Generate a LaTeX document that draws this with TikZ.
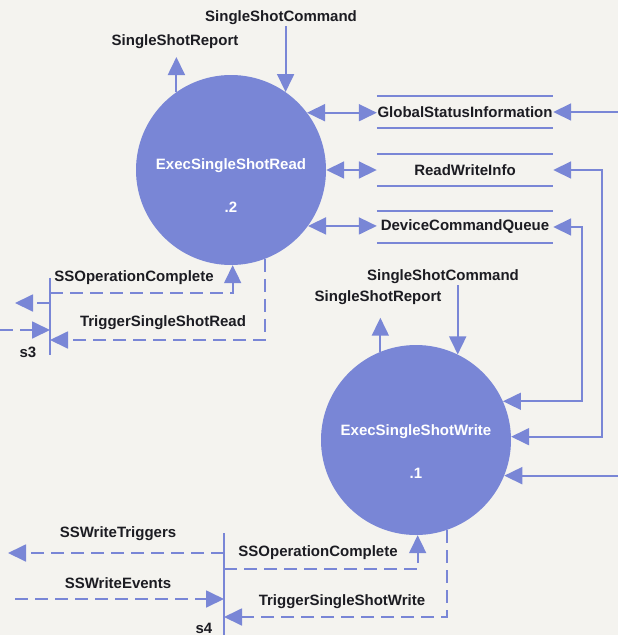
\documentclass[tikz,border=0pt]{standalone}
\usepackage{fontspec}
\setmainfont{Liberation Sans}
\usetikzlibrary{arrows.meta,calc}
\definecolor{dfdblue}{RGB}{121,134,214}
\definecolor{paper}{RGB}{244,243,239}
\definecolor{ink}{RGB}{28,28,34}
\tikzset{
  >={Triangle[length=18pt,width=17pt]},
  line/.style={draw=dfdblue, line width=1.8pt},
  dline/.style={line, dash pattern=on 13pt off 7pt},
  process/.style={circle, fill=dfdblue, minimum size=190pt, inner sep=0pt},
  proclabel/.style={text=white, font=\bfseries\fontsize{15}{18}\selectfont, inner sep=1pt},
  lbl/.style={text=ink, font=\bfseries\fontsize{15}{18}\selectfont, inner sep=1pt},
  store/.style={lbl, minimum width=176pt, minimum height=31pt, inner sep=0pt}
}
\begin{document}
\begin{tikzpicture}[x=1pt, y=-1pt]
    \useasboundingbox (0,0) rectangle (618,635);
    \fill[paper] (0,0) rectangle (618,635);
    \coordinate (edge) at (618,0);

    % Processes
    \node[process] (read) at (231,170) {};
    \node[proclabel] (readt) at ($(read)+(0,-4)$) {ExecSingleShotRead};
    \node[proclabel] (readn) at ($(read)+(0,37)$) {.2};
    \node[process] (write) at (416,440) {};
    \node[proclabel] (writet) at ($(write)+(0,-8)$) {ExecSingleShotWrite};
    \node[proclabel] (writen) at ($(write)+(0,33)$) {.1};

    % Data stores
    \node[store] (gsi) at (465,112) {GlobalStatusInformation};
    \node[store] (rwi) at (465,170) {ReadWriteInfo};
    \node[store] (dcq) at (465,227) {DeviceCommandQueue};
    \foreach \s in {gsi, rwi, dcq} {
        \draw[line] (\s.north west) -- (\s.north east) (\s.south west) -- (\s.south east);
    }

    % Commands and reports
    \node[lbl] (rcmd) at (281,18) {SingleShotCommand};
    \node[lbl] (rrep) at (175,42) {SingleShotReport};
    \draw[line,->] (rcmd.south -| read.55.4) -- (read.55.4);
    \draw[line,->] (read.125.4) -- ++(0,-35);
    \node[lbl] (wcmd) at (443,277) {SingleShotCommand};
    \node[lbl] (wrep) at (378,298) {SingleShotReport};
    \draw[line,->] (wcmd.south -| write.64.4) -- (write.64.4);
    \draw[line,->] (write.112.9) -- ++(0,-34);

    % Store access
    \draw[line,<->] (read.37.6) -- (read.37.6 -| gsi.west);
    \draw[line,<->] (read.east) -- (rwi.west);
    \draw[line,<->] (read.-36.9) -- (read.-36.9 -| dcq.west);
    \draw[line,<-] (gsi.east) -- (gsi.east -| edge);
    \coordinate (rwibend) at (602,170);
    \coordinate (dcqbend) at (582,227);
    \draw[line,<->] (rwi.east) -- (rwibend) |- (write.2.4);
    \draw[line,<->] (dcq.east) -- (dcqbend) |- (write.24.9);
    \draw[line,<-] (write.-22.9) -- (write.-22.9 -| edge);

    % Bar s3
    \coordinate (s3top) at (50,278);
    \coordinate (s3bot) at (50,355);
    \draw[line] (s3top) -- (s3bot);
    \node[lbl] (s3l) at (28,352) {s3};
    \coordinate (s3a) at (50,293);
    \coordinate (s3b) at (50,340);
    \coordinate (s3c) at (50,303);
    \coordinate (s3d) at (50,330);
    \coordinate (s3out) at (15,303);
    \coordinate (s3in) at (0,330);
    \draw[dline,->] (s3a) -| (read.-89);
    \node[lbl] (rssop) at (134,278) {SSOperationComplete};
    \draw[dline,->] (read.-69) |- (s3b);
    \node[lbl] (rtrig) at (163,323) {TriggerSingleShotRead};
    \draw[dline,->] (s3c) -- (s3out);
    \draw[dline,->] (s3in) -- (s3d);

    % Bar s4
    \coordinate (s4top) at (224,533);
    \coordinate (s4bot) at (224,635);
    \draw[line] (s4top) -- (s4bot);
    \node[lbl] (s4l) at (204,628) {s4};
    \coordinate (s4a) at (224,553);
    \coordinate (s4b) at (224,599);
    \coordinate (s4c) at (224,569);
    \coordinate (s4d) at (224,617);
    \coordinate (s4out) at (8,553);
    \coordinate (s4in) at (15,599);
    \draw[dline,->] (s4a) -- (s4out);
    \node[lbl] (swt) at (118,534) {SSWriteTriggers};
    \draw[dline,->] (s4in) -- (s4b);
    \node[lbl] (swe) at (118,583) {SSWriteEvents};
    \draw[dline,->] (s4c) -| (write.-89.4);
    \node[lbl] (wssop) at (318,553) {SSOperationComplete};
    \draw[dline,->] (write.-71) |- (s4d);
    \node[lbl] (wtrig) at (342,602) {TriggerSingleShotWrite};
\end{tikzpicture}
\end{document}
